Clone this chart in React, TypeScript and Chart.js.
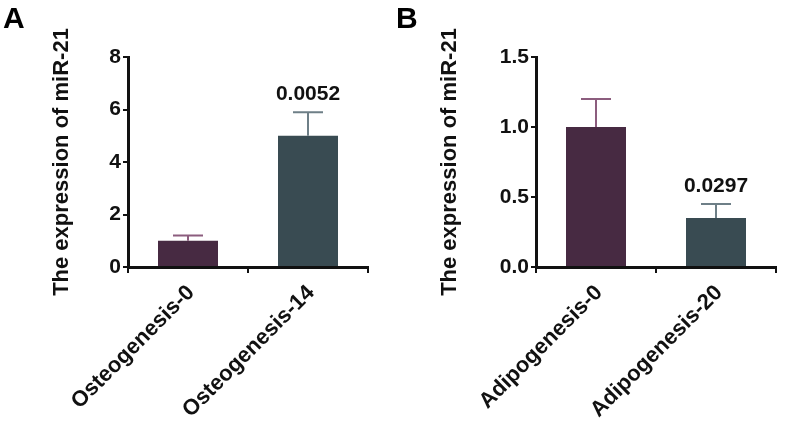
import React, { useEffect, useRef } from "react";
import { Chart, registerables } from "chart.js";

Chart.register(...registerables);

const FONT = "'Liberation Sans', Arial, Helvetica, sans-serif";

// Panel A
const categoriesA = ["Osteogenesis-0", "Osteogenesis-14"];
const meansA = [1.0, 5.0];
const errorsA = [0.2, 0.9];
const pLabelsA = ["", "0.0052"];
const yMaxA = 8;
const yStepA = 2;

// Panel B
const categoriesB = ["Adipogenesis-0", "Adipogenesis-20"];
const meansB = [1.0, 0.35];
const errorsB = [0.2, 0.1];
const pLabelsB = ["", "0.0297"];
const yMaxB = 1.5;
const yStepB = 0.5;

const yTitle = "The expression of miR-21";
const barColors = ["#472a42", "#394b52"];
const errColors = ["#8c5d7e", "#6e7f87"];

type PanelProps = {
  letter: string;
  categories: string[];
  means: number[];
  errors: number[];
  pLabels: string[];
  yMax: number;
  yStep: number;
  decimals: number;
  axisWidth: number;
  rightPad: number;
  titlePad: number;
};

function Panel(p: PanelProps) {
  const ref = useRef<HTMLCanvasElement | null>(null);
  useEffect(() => {
    if (!ref.current) return;
    const extras = {
      id: "extras",
      afterDatasetsDraw(chart: any) {
        const ctx = chart.ctx;
        const meta = chart.getDatasetMeta(0);
        const ys = chart.scales.y;
        meta.data.forEach((bar: any, i: number) => {
          const x = bar.x;
          const topY = ys.getPixelForValue(p.means[i] + p.errors[i]);
          ctx.save();
          ctx.strokeStyle = errColors[i];
          ctx.lineWidth = 2;
          ctx.beginPath();
          ctx.moveTo(x, bar.y);
          ctx.lineTo(x, topY);
          ctx.moveTo(x - 15, topY);
          ctx.lineTo(x + 15, topY);
          ctx.stroke();
          if (p.pLabels[i]) {
            ctx.fillStyle = "#111";
            ctx.font = `bold 21px ${FONT}`;
            ctx.textAlign = "center";
            ctx.textBaseline = "bottom";
            ctx.fillText(p.pLabels[i], x, topY - 7);
          }
          ctx.restore();
        });
        ctx.save();
        ctx.fillStyle = "#000";
        ctx.font = `bold 30px ${FONT}`;
        ctx.textAlign = "left";
        ctx.textBaseline = "top";
        ctx.fillText(p.letter, 3, 5);
        ctx.restore();
      },
    };
    const chart = new Chart(ref.current, {
      type: "bar",
      data: {
        labels: p.categories,
        datasets: [
          {
            data: p.means,
            backgroundColor: barColors,
            borderWidth: 0,
            categoryPercentage: 1,
            barPercentage: 0.5,
          },
        ],
      },
      options: {
        responsive: false,
        animation: false,
        devicePixelRatio: 1,
        layout: { padding: { top: 57, right: p.rightPad, left: 0, bottom: 0 } },
        plugins: { legend: { display: false }, tooltip: { enabled: false } },
        scales: {
          x: {
            afterFit: (s: any) => {
              s.height = 426 - 267;
            },
            grid: {
              drawOnChartArea: false,
              drawTicks: true,
              tickLength: 6,
              color: "#111",
              lineWidth: 2,
            },
            border: { display: true, color: "#111", width: 3 },
            ticks: {
              color: "#111",
              minRotation: 45,
              maxRotation: 45,
              padding: 7,
              labelOffset: 3,
              font: { family: FONT, size: 22, weight: "bold" },
            },
          },
          y: {
            min: 0,
            max: p.yMax,
            afterFit: (s: any) => {
              s.width = p.axisWidth;
            },
            grid: {
              drawOnChartArea: false,
              drawTicks: true,
              tickLength: 5,
              color: "#111",
              lineWidth: 2,
            },
            border: { display: true, color: "#111", width: 3 },
            ticks: {
              stepSize: p.yStep,
              color: "#111",
              padding: 2,
              font: { family: FONT, size: 21, weight: "bold" },
              callback: (v: any) => Number(v).toFixed(p.decimals),
            },
            title: {
              display: true,
              text: yTitle,
              color: "#111",
              padding: { top: p.titlePad, bottom: 0 },
              font: { family: FONT, size: 22, weight: "bold" },
            },
          },
        },
      },
      plugins: [extras],
    } as any);
    return () => chart.destroy();
  }, []);
  return <canvas ref={ref} width={393} height={426} style={{ display: "block" }} />;
}

export default function App() {
  return (
    <div
      style={{
        position: "fixed",
        left: 0,
        top: 0,
        width: 786,
        height: 426,
        background: "#fff",
        display: "flex",
      }}
    >
      <Panel
        letter="A"
        categories={categoriesA}
        means={meansA}
        errors={errorsA}
        pLabels={pLabelsA}
        yMax={yMaxA}
        yStep={yStepA}
        decimals={0}
        axisWidth={128}
        rightPad={25}
        titlePad={49}
      />
      <Panel
        letter="B"
        categories={categoriesB}
        means={meansB}
        errors={errorsB}
        pLabels={pLabelsB}
        yMax={yMaxB}
        yStep={yStepB}
        decimals={1}
        axisWidth={143}
        rightPad={10}
        titlePad={44}
      />
    </div>
  );
}
